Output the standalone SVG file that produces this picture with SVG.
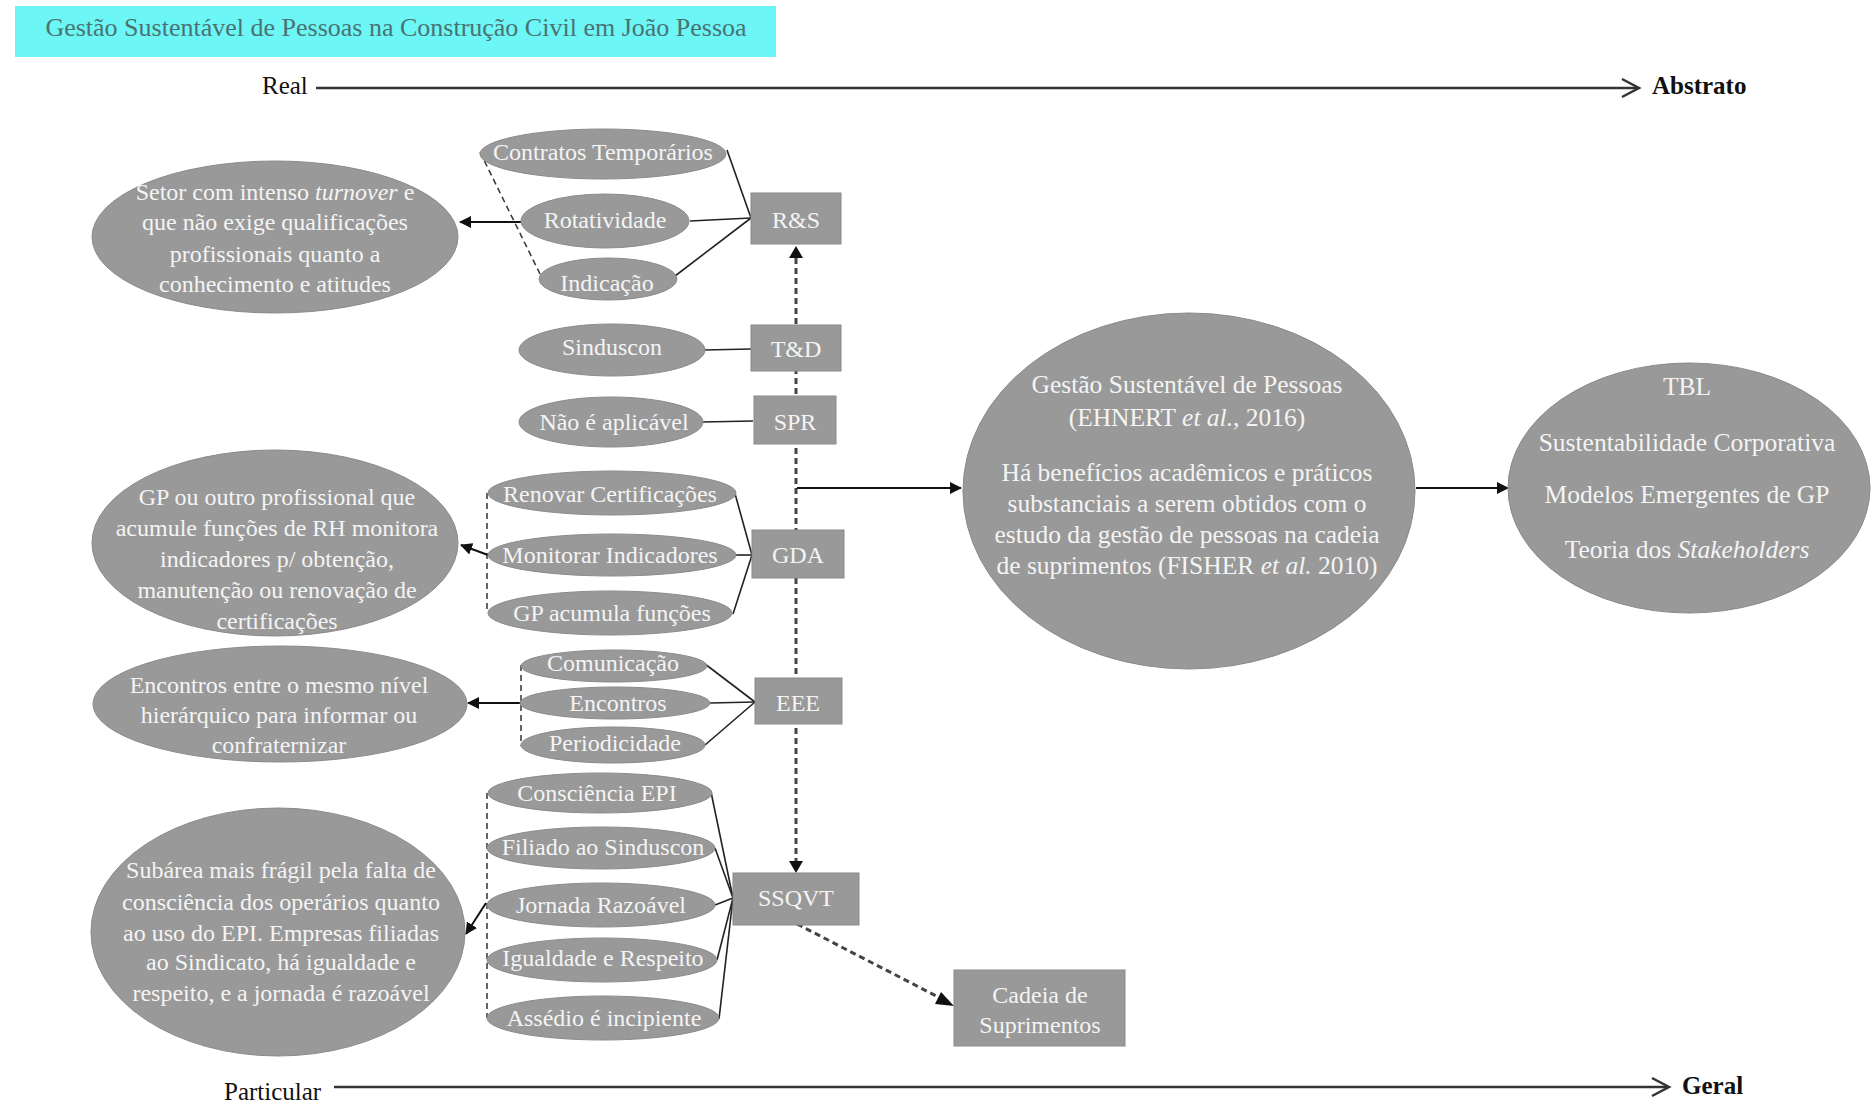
<svg xmlns="http://www.w3.org/2000/svg" width="1872" height="1104" viewBox="0 0 1872 1104">
  <defs>
    <marker id="tri" viewBox="0 0 12 12" refX="11" refY="6" markerWidth="12" markerHeight="12" markerUnits="userSpaceOnUse" orient="auto">
      <path d="M0,0 L12,6 L0,12 Z" fill="#111"/>
    </marker>
    <style>
      text { font-family: "Liberation Serif", "Times New Roman", serif; }
      .node { fill: #999999; stroke: #8a8a8a; stroke-width: 1; }
      .lbl { fill: #f4f4f4; font-size: 24px; text-anchor: middle; }
      .big { fill: #f4f4f4; font-size: 25.5px; text-anchor: middle; }
      .link { stroke: #222; stroke-width: 1.6; fill: none; }
      .arrow { stroke: #111; stroke-width: 2; fill: none; marker-end: url(#tri); }
      .dash-thin { stroke: #333; stroke-width: 1.5; fill: none; stroke-dasharray: 6 4; }
      .dash-main { stroke: #444; stroke-width: 3; fill: none; stroke-dasharray: 6 4; }
      .axis { stroke: #333; stroke-width: 2.5; fill: none; }
      .axlbl { fill: #111; font-size: 25px; }
    </style>
  </defs>

  <rect width="1872" height="1104" fill="#ffffff"/>

  <!-- title banner -->
  <g id="title">
    <rect x="15" y="6" width="761" height="51" fill="#6cf6f6"/>
    <text x="396" y="36" font-size="26" fill="#4b7272" text-anchor="middle">Gestão Sustentável de Pessoas na Construção Civil em João Pessoa</text>
  </g>

  <!-- axes -->
  <g id="axis-top">
    <text class="axlbl" x="262" y="94">Real</text>
    <line class="axis" x1="316" y1="88" x2="1638" y2="88"/>
    <polyline class="axis" points="1622,79 1639,88 1622,97"/>
    <text class="axlbl" x="1652" y="94" font-weight="bold">Abstrato</text>
  </g>
  <g id="axis-bottom">
    <text class="axlbl" x="224" y="1100" font-size="26">Particular</text>
    <line class="axis" x1="334" y1="1087" x2="1668" y2="1087"/>
    <polyline class="axis" points="1652,1078 1669,1087 1652,1096"/>
    <text class="axlbl" x="1682" y="1094" font-weight="bold">Geral</text>
  </g>

  <!-- connectors -->
  <g id="connectors">
    <!-- central dashed spine -->
    <line class="dash-main" x1="796" y1="258" x2="796" y2="862"/>
    <path d="M789,258 L796,246 L803,258 Z" fill="#111"/>
    <path d="M789,861 L796,873 L803,861 Z" fill="#111"/>
    <line class="arrow" x1="797" y1="488" x2="961" y2="488"/>
    <line class="dash-main" x1="797" y1="924" x2="944" y2="1000" stroke-width="2.5"/>
    <path d="M941,992 L954,1006 L935,1004 Z" fill="#111"/>
    <line class="arrow" x1="1416" y1="488" x2="1508" y2="488"/>

    <!-- R&S -->
    <line class="link" x1="751" y1="218" x2="727" y2="150"/>
    <line class="link" x1="751" y1="218" x2="690" y2="221"/>
    <line class="link" x1="751" y1="218" x2="675" y2="276"/>
    <line class="dash-thin" x1="480" y1="152" x2="542" y2="278"/>
    <line class="arrow" x1="521" y1="222" x2="460" y2="222"/>

    <!-- T&D, SPR -->
    <line class="link" x1="751" y1="349" x2="704" y2="350"/>
    <line class="link" x1="753" y1="421" x2="702" y2="422"/>

    <!-- GDA -->
    <line class="link" x1="752" y1="555" x2="734" y2="490"/>
    <line class="link" x1="752" y1="555" x2="736" y2="555"/>
    <line class="link" x1="752" y1="555" x2="733" y2="614"/>
    <line class="dash-thin" x1="487" y1="493" x2="487" y2="613"/>
    <line class="arrow" x1="488" y1="555" x2="461" y2="545"/>

    <!-- EEE -->
    <line class="link" x1="755" y1="702" x2="705" y2="664"/>
    <line class="link" x1="755" y1="702" x2="710" y2="703"/>
    <line class="link" x1="755" y1="702" x2="705" y2="745"/>
    <line class="dash-thin" x1="521" y1="665" x2="521" y2="746"/>
    <line class="arrow" x1="521" y1="703" x2="468" y2="703"/>

    <!-- SSQVT -->
    <line class="link" x1="733" y1="898" x2="711" y2="792"/>
    <line class="link" x1="733" y1="898" x2="715" y2="848"/>
    <line class="link" x1="733" y1="898" x2="715" y2="905"/>
    <line class="link" x1="733" y1="898" x2="717" y2="960"/>
    <line class="link" x1="733" y1="898" x2="719" y2="1019"/>
    <line class="dash-thin" x1="487" y1="793" x2="487" y2="1018"/>
    <line class="arrow" x1="486" y1="903" x2="466" y2="934"/>
  </g>

  <!-- category boxes -->
  <g id="rs"><rect class="node" x="751" y="193" width="90" height="51"/><text class="lbl" x="796" y="228">R&amp;S</text></g>
  <g id="td"><rect class="node" x="751" y="325" width="90" height="46"/><text class="lbl" x="796" y="357">T&amp;D</text></g>
  <g id="spr"><rect class="node" x="754" y="396" width="82" height="48"/><text class="lbl" x="795" y="430">SPR</text></g>
  <g id="gda"><rect class="node" x="752" y="530" width="92" height="48"/><text class="lbl" x="798" y="563">GDA</text></g>
  <g id="eee"><rect class="node" x="755" y="678" width="87" height="46"/><text class="lbl" x="798" y="711">EEE</text></g>
  <g id="ssqvt"><rect class="node" x="733" y="873" width="126" height="52"/><text class="lbl" x="796" y="906">SSQVT</text></g>
  <g id="cadeia"><rect class="node" x="954" y="970" width="171" height="76"/>
    <text class="lbl" x="1040" y="1003">Cadeia de</text>
    <text class="lbl" x="1040" y="1033">Suprimentos</text>
  </g>

  <!-- R&S items -->
  <g id="contratos"><ellipse class="node" cx="603" cy="154" rx="123" ry="25"/><text class="lbl" x="603" y="160">Contratos Temporários</text></g>
  <g id="rotatividade"><ellipse class="node" cx="605" cy="221" rx="84" ry="27"/><text class="lbl" x="605" y="228">Rotatividade</text></g>
  <g id="indicacao"><ellipse class="node" cx="608" cy="279" rx="69" ry="21"/><text class="lbl" x="607" y="291">Indicação</text></g>
  <g id="sinduscon"><ellipse class="node" cx="612" cy="350" rx="93" ry="26"/><text class="lbl" x="612" y="355">Sinduscon</text></g>
  <g id="nao-aplicavel"><ellipse class="node" cx="611" cy="422" rx="92" ry="25"/><text class="lbl" x="614" y="430">Não é aplicável</text></g>

  <!-- GDA items -->
  <g id="renovar"><ellipse class="node" cx="612" cy="493" rx="124" ry="22"/><text class="lbl" x="610" y="502">Renovar Certificações</text></g>
  <g id="monitorar"><ellipse class="node" cx="612" cy="555" rx="124" ry="21"/><text class="lbl" x="610" y="563">Monitorar Indicadores</text></g>
  <g id="gp-acumula"><ellipse class="node" cx="610" cy="613" rx="122" ry="22"/><text class="lbl" x="612" y="621">GP acumula funções</text></g>

  <!-- EEE items -->
  <g id="comunicacao"><ellipse class="node" cx="614" cy="666" rx="93" ry="16"/><text class="lbl" x="613" y="671">Comunicação</text></g>
  <g id="encontros"><ellipse class="node" cx="615" cy="703" rx="95" ry="16"/><text class="lbl" x="618" y="711">Encontros</text></g>
  <g id="periodicidade"><ellipse class="node" cx="613" cy="745" rx="92" ry="18"/><text class="lbl" x="615" y="751">Periodicidade</text></g>

  <!-- SSQVT items -->
  <g id="epi"><ellipse class="node" cx="600" cy="793" rx="112" ry="20"/><text class="lbl" x="597" y="801">Consciência EPI</text></g>
  <g id="filiado"><ellipse class="node" cx="601" cy="848" rx="114" ry="21"/><text class="lbl" x="603" y="855">Filiado ao Sinduscon</text></g>
  <g id="jornada"><ellipse class="node" cx="601" cy="905" rx="114" ry="22"/><text class="lbl" x="601" y="913">Jornada Razoável</text></g>
  <g id="igualdade"><ellipse class="node" cx="602" cy="960" rx="115" ry="22"/><text class="lbl" x="603" y="966">Igualdade e Respeito</text></g>
  <g id="assedio"><ellipse class="node" cx="603" cy="1018" rx="116" ry="22"/><text class="lbl" x="604" y="1026">Assédio é incipiente</text></g>

  <!-- summary ellipses on the left -->
  <g id="rs-summary"><ellipse class="node" cx="275" cy="237" rx="183" ry="76"/>
    <text class="lbl" x="275" y="200">Setor com intenso <tspan font-style="italic">turnover</tspan> e</text>
    <text class="lbl" x="275" y="230">que não exige qualificações</text>
    <text class="lbl" x="275" y="262">profissionais quanto a</text>
    <text class="lbl" x="275" y="292">conhecimento e atitudes</text>
  </g>
  <g id="gda-summary"><ellipse class="node" cx="275" cy="543" rx="183" ry="93"/>
    <text class="lbl" x="277" y="505">GP ou outro profissional que</text>
    <text class="lbl" x="277" y="536">acumule funções de RH monitora</text>
    <text class="lbl" x="277" y="567">indicadores p/ obtenção,</text>
    <text class="lbl" x="277" y="598">manutenção ou renovação de</text>
    <text class="lbl" x="277" y="629">certificações</text>
  </g>
  <g id="eee-summary"><ellipse class="node" cx="280" cy="704" rx="187" ry="58"/>
    <text class="lbl" x="279" y="693">Encontros entre o mesmo nível</text>
    <text class="lbl" x="279" y="723">hierárquico para informar ou</text>
    <text class="lbl" x="279" y="753">confraternizar</text>
  </g>
  <g id="ssqvt-summary"><ellipse class="node" cx="278" cy="932" rx="187" ry="124"/>
    <text class="lbl" x="281" y="878">Subárea mais frágil pela falta de</text>
    <text class="lbl" x="281" y="910">consciência dos operários quanto</text>
    <text class="lbl" x="281" y="941">ao uso do EPI. Empresas filiadas</text>
    <text class="lbl" x="281" y="970">ao Sindicato, há igualdade e</text>
    <text class="lbl" x="281" y="1001">respeito, e a jornada é razoável</text>
  </g>

  <!-- central concept -->
  <g id="gsp"><ellipse class="node" cx="1189" cy="491" rx="226" ry="178"/>
    <text class="big" x="1187" y="393">Gestão Sustentável de Pessoas</text>
    <text class="big" x="1187" y="426">(EHNERT <tspan font-style="italic">et al.</tspan>, 2016)</text>
    <text class="big" x="1187" y="481">Há benefícios acadêmicos e práticos</text>
    <text class="big" x="1187" y="512">substanciais a serem obtidos com o</text>
    <text class="big" x="1187" y="543">estudo da gestão de pessoas na cadeia</text>
    <text class="big" x="1187" y="574">de suprimentos (FISHER <tspan font-style="italic">et al.</tspan> 2010)</text>
  </g>

  <!-- theoretical background -->
  <g id="theories"><ellipse class="node" cx="1689" cy="488" rx="181" ry="125"/>
    <text class="big" x="1687" y="395">TBL</text>
    <text class="big" x="1687" y="451">Sustentabilidade Corporativa</text>
    <text class="big" x="1687" y="503">Modelos Emergentes de GP</text>
    <text class="big" x="1687" y="558">Teoria dos <tspan font-style="italic">Stakeholders</tspan></text>
  </g>
</svg>
